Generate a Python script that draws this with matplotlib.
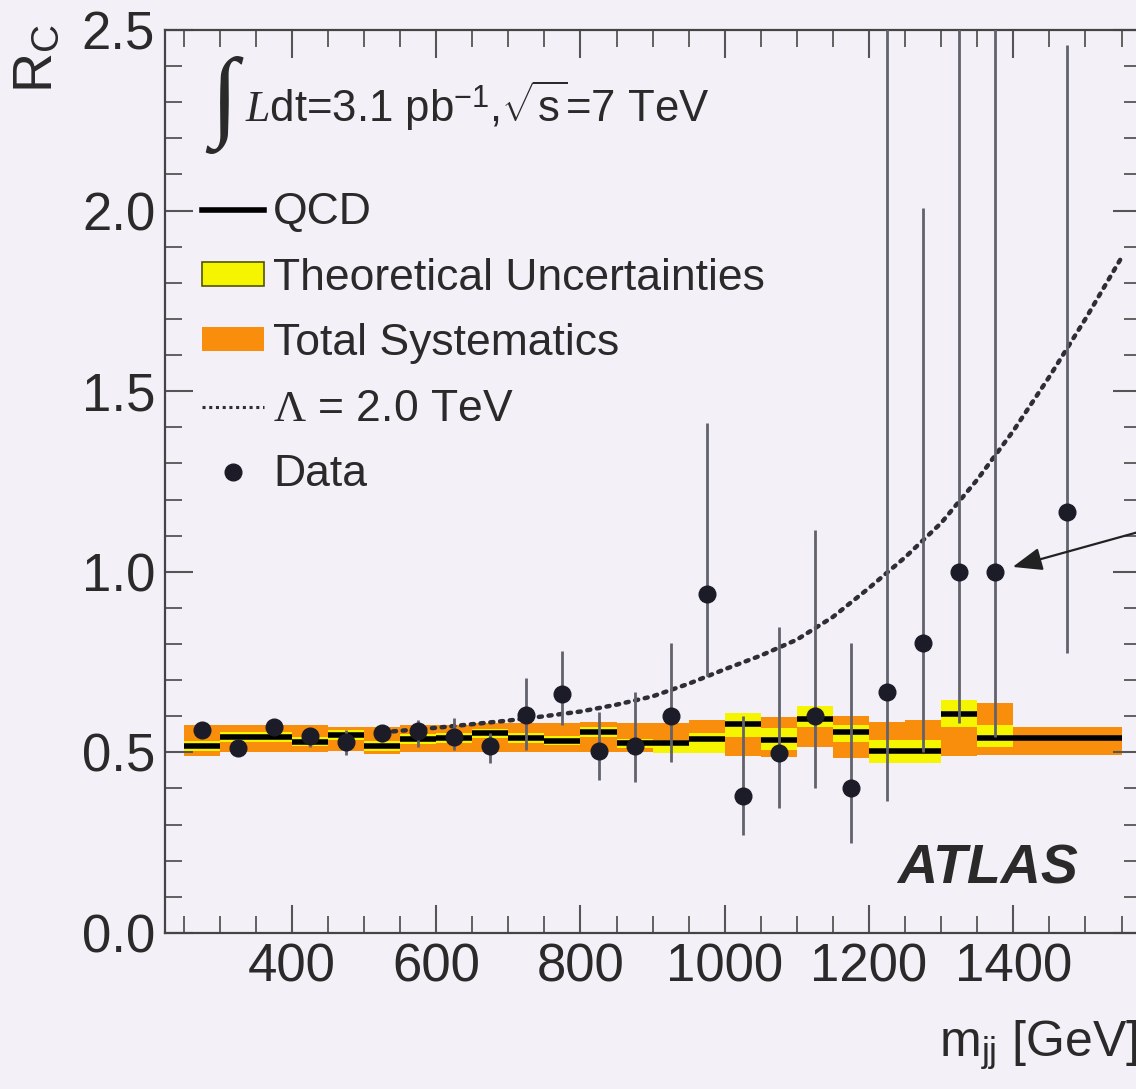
import numpy as np
import matplotlib
matplotlib.use('Agg')
import matplotlib.pyplot as plt
from matplotlib.lines import Line2D
from matplotlib.patches import Patch
from matplotlib.ticker import MultipleLocator

plt.rcParams['font.family'] = ['Liberation Sans', 'DejaVu Sans']
plt.rcParams['mathtext.fontset'] = 'custom'
plt.rcParams['mathtext.rm'] = 'Liberation Serif'
plt.rcParams['mathtext.it'] = 'Liberation Serif:italic'
plt.rcParams['mathtext.sf'] = 'Liberation Sans'

# mass bins [GeV]
bin_edges = [250, 300, 350, 400, 450, 500, 550, 600, 650, 700, 750, 800,
             850, 900, 950, 1000, 1050, 1100, 1150, 1200, 1250, 1300, 1350,
             1400, 1550]

# QCD prediction per bin
qcd = [0.518, 0.543, 0.543, 0.530, 0.548, 0.518, 0.537, 0.540, 0.553, 0.540,
       0.532, 0.556, 0.525, 0.527, 0.537, 0.579, 0.534, 0.592, 0.555, 0.505,
       0.505, 0.605, 0.541, 0.541]

# theoretical uncertainty band (yellow)
theo_lo = [0.505, 0.530, 0.530, 0.517, 0.535, 0.505, 0.524, 0.527, 0.540,
           0.527, 0.519, 0.542, 0.512, 0.498, 0.498, 0.543, 0.507, 0.571,
           0.530, 0.471, 0.471, 0.571, 0.516, 0.541]
theo_hi = [0.531, 0.556, 0.556, 0.543, 0.561, 0.531, 0.550, 0.553, 0.566,
           0.553, 0.545, 0.571, 0.538, 0.534, 0.553, 0.609, 0.567, 0.629,
           0.576, 0.534, 0.534, 0.645, 0.575, 0.541]

# total systematics band (orange)
syst_lo = [0.490, 0.500, 0.500, 0.500, 0.505, 0.495, 0.500, 0.500, 0.500,
           0.500, 0.500, 0.500, 0.500, 0.500, 0.500, 0.490, 0.487, 0.515,
           0.484, 0.490, 0.490, 0.490, 0.493, 0.493]
syst_hi = [0.575, 0.575, 0.575, 0.575, 0.570, 0.570, 0.575, 0.575, 0.580,
           0.580, 0.580, 0.585, 0.580, 0.580, 0.590, 0.585, 0.598, 0.600,
           0.600, 0.585, 0.590, 0.600, 0.637, 0.571]

# contact interaction, Lambda = 2.0 TeV
lam_x = [540, 600, 650, 700, 750, 800, 850, 900, 950, 1000, 1050, 1100, 1150,
         1200, 1250, 1300, 1350, 1400, 1450, 1500, 1550]
lam_y = [0.558, 0.568, 0.578, 0.588, 0.600, 0.613, 0.632, 0.655, 0.690, 0.730,
         0.768, 0.812, 0.875, 0.955, 1.040, 1.135, 1.255, 1.390, 1.540, 1.700,
         1.870]

# data points with error bar ends
data_x = [275, 325, 375, 425, 475, 525, 575, 625, 675, 725, 775, 825, 875,
          925, 975, 1025, 1075, 1125, 1175, 1225, 1275, 1325, 1375, 1475]
data_y = [0.562, 0.511, 0.571, 0.545, 0.530, 0.553, 0.558, 0.543, 0.518,
          0.604, 0.662, 0.505, 0.518, 0.601, 0.939, 0.380, 0.499, 0.601,
          0.400, 0.667, 0.802, 1.000, 1.000, 1.166]
data_lo = [0.545, 0.490, 0.550, 0.516, 0.493, 0.530, 0.516, 0.507, 0.470,
           0.507, 0.576, 0.424, 0.419, 0.474, 0.710, 0.271, 0.345, 0.400,
           0.250, 0.366, 0.500, 0.580, 0.543, 0.774]
data_hi = [0.578, 0.530, 0.590, 0.562, 0.562, 0.575, 0.590, 0.595, 0.553,
           0.706, 0.780, 0.613, 0.668, 0.802, 1.412, 0.600, 0.848, 1.116,
           0.802, 2.800, 2.007, 2.800, 2.800, 2.458]

bg = '#f4f0f7'
txt = '#2a2a2a'
yellow = '#f6f500'
orange = '#f98d0c'

fig = plt.figure(figsize=(11.36, 10.89), dpi=100, facecolor=bg)
ax = fig.add_axes([0.1452, 0.1433, 0.8592, 0.8292], facecolor=bg)

edges = np.array(bin_edges, dtype=float)
left = edges[:-1]
width = np.diff(edges)
qcd = np.array(qcd)

ax.bar(left, np.array(syst_hi) - np.array(syst_lo), bottom=syst_lo,
       width=width, align='edge', color=orange, lw=0, zorder=1)
ax.bar(left, np.array(theo_hi) - np.array(theo_lo), bottom=theo_lo,
       width=width, align='edge', color=yellow, lw=0, zorder=2)
ax.hlines(qcd, left, edges[1:], color='black', lw=4, zorder=3)

ax.plot(lam_x, lam_y, color='#2e2e36', lw=3.2, ls=(0, (0.7, 1.5)),
        dash_capstyle='round', zorder=4)

dy = np.array(data_y)
ax.errorbar(data_x, data_y, yerr=[dy - np.array(data_lo), np.array(data_hi) - dy],
            fmt='o', color='#1c1c28', ms=12, ecolor='#62626c', elinewidth=2.0,
            capsize=0, zorder=5)

# arrow pointing at the highest-mass event pair
ax.annotate('', xy=(data_x[22], data_y[22]), xytext=(1660, 1.158),
            arrowprops=dict(arrowstyle='-|>,head_length=1.8,head_width=0.7',
                            color='#222222', lw=1.6, shrinkA=0, shrinkB=13),
            annotation_clip=False, zorder=6)

ax.set_xlim(224, 1577)
ax.set_ylim(0, 2.5)
ax.set_xticks(range(400, 1600, 200))
ax.xaxis.set_minor_locator(MultipleLocator(50))
ax.set_yticks(np.arange(0, 2.51, 0.5))
ax.set_yticklabels(['%.1f' % v for v in np.arange(0, 2.51, 0.5)])
ax.yaxis.set_minor_locator(MultipleLocator(0.1))
ax.tick_params(which='both', direction='in', top=True, right=True,
               colors='#555555', labelcolor=txt, labelsize=38)
ax.tick_params(which='major', length=20, width=1.5, pad=7)
ax.tick_params(which='minor', length=12, width=1.3)
for s in ax.spines.values():
    s.set_color('#444444')
    s.set_linewidth(1.6)

handles = [
    Line2D([], [], color='black', lw=4),
    Patch(facecolor=yellow, edgecolor='#555500', lw=1.2),
    Patch(facecolor=orange, edgecolor='none'),
    Line2D([], [], color='#2e2e36', lw=2.2, ls=(0, (1.0, 1.2))),
    Line2D([], [], color='#1c1c28', marker='o', ls='none', ms=12),
]
labels = ['QCD', 'Theoretical Uncertainties', 'Total Systematics',
          r'$\Lambda$ = 2.0 TeV', 'Data']
leg = ax.legend(handles, labels, loc='upper left', bbox_to_anchor=(0.02, 0.840),
                frameon=False, fontsize=32, handlelength=1.4, handleheight=0.45,
                handletextpad=0.2, labelspacing=0.55, borderaxespad=0)
for t in leg.get_texts():
    t.set_color(txt)

ax.text(0.046, 0.893, '\u222b', transform=ax.transAxes, fontsize=72,
        family='Liberation Serif', color=txt, ha='left', va='baseline')
ax.text(0.082, 0.898, r'$\mathit{L}$dt=3.1 pb$^{\mathsf{-1}}$,$\sqrt{\mathsf{s}}$=7 TeV',
        transform=ax.transAxes, fontsize=31.5, color=txt, va='baseline')

ax.text(0.75, 0.055, 'ATLAS', transform=ax.transAxes, fontsize=40,
        fontweight='bold', fontstyle='italic', color=txt, va='baseline')

fig.text(38 / 1136, 1 - 24 / 1089, r'R$_{\mathsf{C}}$', rotation=90,
         ha='center', va='top', fontsize=40, color=txt)
fig.text(1138 / 1136, 1 - 1045 / 1089, r'm$_{\mathsf{jj}}$ [GeV]',
         ha='right', va='center', fontsize=36, color=txt)

fig.savefig('out.png', dpi=100, facecolor=bg)
